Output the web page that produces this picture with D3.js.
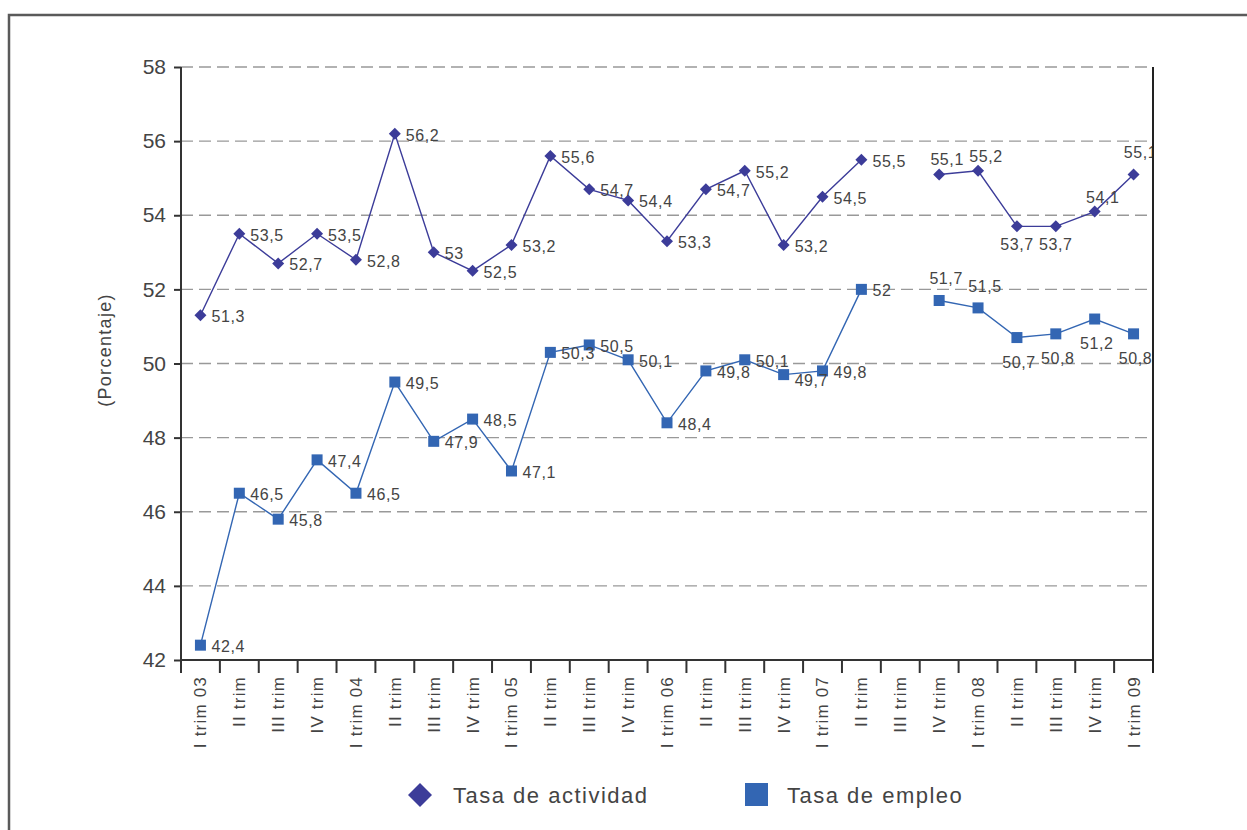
<!DOCTYPE html>
<html>
<head>
<meta charset="utf-8">
<script src="https://cdn.jsdelivr.net/npm/d3@7"></script>
<style>
  body { margin: 0; background: #fff; }
  text { font-family: "Liberation Sans", Arial, sans-serif; fill: #444; }
</style>
</head>
<body>
<script>
// quarters, 2003 - 2009
let quarters = ["I trim 03", "II trim", "III trim", "IV trim",
  "I trim 04", "II trim", "III trim", "IV trim",
  "I trim 05", "II trim", "III trim", "IV trim",
  "I trim 06", "II trim", "III trim", "IV trim",
  "I trim 07", "II trim", "III trim", "IV trim",
  "I trim 08", "II trim", "III trim", "IV trim",
  "I trim 09"];

// III trim 07 has no value in either series
let actividad = [51.3, 53.5, 52.7, 53.5, 52.8, 56.2, 53, 52.5, 53.2, 55.6, 54.7, 54.4,
  53.3, 54.7, 55.2, 53.2, 54.5, 55.5, null, 55.1, 55.2, 53.7, 53.7, 54.1, 55.1];
let empleo = [42.4, 46.5, 45.8, 47.4, 46.5, 49.5, 47.9, 48.5, 47.1, 50.3, 50.5, 50.1,
  48.4, 49.8, 50.1, 49.7, 49.8, 52, null, 51.7, 51.5, 50.7, 50.8, 51.2, 50.8];

let yTicks = [42, 44, 46, 48, 50, 52, 54, 56, 58];

// where each value label sits: r = right, t/T = above, b/B = below
let actLabelPos = ["r","r","r","r","r","r","r","r","r","r","r","r","r","r","r","r","r","r",
  null, "t", "t", "b", "b", "t", "T"];
let empLabelPos = ["r","r","r","r","r","r","r","r","r","r","r","r","r","r","r","R","r","r",
  null, "T", "T", "B", "B", "B", "B"];

let labelOffset = {
  r: {dx: 11, dy: 7, anchor: "start"},
  R: {dx: 11, dy: 11, anchor: "start"},
  t: {dx: 8, dy: -9, anchor: "middle"},
  T: {dx: 7, dy: -16, anchor: "middle"},
  b: {dx: 0, dy: 24, anchor: "middle"},
  B: {dx: 2, dy: 30, anchor: "middle"}
};

var W = 1247, H = 830;
var plotL = 181, plotR = 1153, plotT = 67, plotB = 660;

var svg = d3.select("body").append("svg")
  .attr("width", W)
  .attr("height", H);

// outer frame (only top and left edges show)
svg.append("rect")
  .attr("x", 9).attr("y", 15)
  .attr("width", 1300).attr("height", 900)
  .attr("fill", "none")
  .attr("stroke", "#5a5a5a")
  .attr("stroke-width", 2.5);

var x = d3.scaleBand().domain(d3.range(quarters.length)).range([plotL, plotR]);
var y = d3.scaleLinear().domain([42, 58]).range([plotB, plotT]);
var cx = i => x(i) + x.bandwidth() / 2;

// grid
svg.append("g")
  .selectAll("line")
  .data(yTicks.filter(v => v > 42))
  .join("line")
  .attr("x1", plotL).attr("x2", plotR)
  .attr("y1", d => y(d)).attr("y2", d => y(d))
  .attr("stroke", "#999")
  .attr("stroke-width", 1.3)
  .attr("stroke-dasharray", "12,6");

// y axis
var yAxis = svg.append("g")
  .attr("transform", "translate(" + plotL + ",0)")
  .call(d3.axisLeft(y).tickValues(yTicks).tickSize(7).tickPadding(8).tickFormat(d3.format("d")));
yAxis.select(".domain").remove();
yAxis.selectAll(".tick line").attr("stroke", "#333").attr("stroke-width", 2);
yAxis.selectAll(".tick text").style("font-size", "21px").style("fill", "#444");

// x axis labels
var xAxis = svg.append("g")
  .attr("transform", "translate(0," + plotB + ")")
  .call(d3.axisBottom(x).tickSize(0).tickFormat(i => quarters[i]));
xAxis.select(".domain").remove();
xAxis.selectAll(".tick text")
  .attr("transform", "rotate(-90)")
  .attr("x", -16)
  .attr("y", 0)
  .attr("dy", "0.35em")
  .style("text-anchor", "end")
  .style("font-size", "17px")
  .style("letter-spacing", "1.2px")
  .style("fill", "#444");

// x ticks on the band edges
var edges = d3.range(quarters.length).map(i => x(i)).concat([plotR]);
svg.append("g")
  .selectAll("line")
  .data(edges)
  .join("line")
  .attr("x1", d => d).attr("x2", d => d)
  .attr("y1", plotB).attr("y2", plotB + 13)
  .attr("stroke", "#333")
  .attr("stroke-width", 2);

svg.append("line")
  .attr("x1", plotL).attr("x2", plotL)
  .attr("y1", plotT).attr("y2", plotB + 13)
  .attr("stroke", "#333").attr("stroke-width", 2);
svg.append("line")
  .attr("x1", plotL).attr("x2", plotR)
  .attr("y1", plotB).attr("y2", plotB)
  .attr("stroke", "#333").attr("stroke-width", 2);

svg.append("text")
  .attr("transform", "translate(105,350) rotate(-90)")
  .attr("dy", "0.35em")
  .style("text-anchor", "middle")
  .style("font-size", "18px")
  .style("letter-spacing", "1.3px")
  .text("(Porcentaje)");

var series = [
  {name: "Tasa de actividad", values: actividad, pos: actLabelPos, color: "#3c3c99", shape: "diamond"},
  {name: "Tasa de empleo", values: empleo, pos: empLabelPos, color: "#3366b3", shape: "square"}
];

svg.append("clipPath").attr("id", "plotclip")
  .append("rect").attr("x", 0).attr("y", 0).attr("width", plotR).attr("height", H);

var line = d3.line()
  .defined(d => d[1] != null)
  .x(d => cx(d[0]))
  .y(d => y(d[1]));

series.forEach(s => {
  var pts = s.values.map((v, i) => [i, v]);
  svg.append("path")
    .datum(pts)
    .attr("fill", "none")
    .attr("stroke", s.color)
    .attr("stroke-width", 1.4)
    .attr("d", line);

  var valid = pts.filter(d => d[1] != null);
  if (s.shape == "diamond") {
    svg.append("g").selectAll("path")
      .data(valid)
      .join("path")
      .attr("d", d => {
        var px = cx(d[0]), py = y(d[1]), r = 6;
        return "M" + px + "," + (py - r) + "L" + (px + r) + "," + py + "L" + px + "," + (py + r) + "L" + (px - r) + "," + py + "Z";
      })
      .attr("fill", s.color);
  } else {
    svg.append("g").selectAll("rect")
      .data(valid)
      .join("rect")
      .attr("x", d => cx(d[0]) - 5.5)
      .attr("y", d => y(d[1]) - 5.5)
      .attr("width", 11).attr("height", 11)
      .attr("fill", s.color);
  }

  svg.append("g").attr("clip-path", "url(#plotclip)")
    .selectAll("text")
    .data(valid)
    .join("text")
    .attr("x", d => cx(d[0]) + labelOffset[s.pos[d[0]]].dx)
    .attr("y", d => y(d[1]) + labelOffset[s.pos[d[0]]].dy)
    .style("text-anchor", d => labelOffset[s.pos[d[0]]].anchor)
    .style("font-size", "16px")
    .style("letter-spacing", "0.6px")
    .text(d => String(d[1]).replace(".", ","));
});

// right edge of plot drawn last
svg.append("line")
  .attr("x1", plotR).attr("x2", plotR)
  .attr("y1", plotT).attr("y2", plotB + 13)
  .attr("stroke", "#222").attr("stroke-width", 2);

// legend
svg.append("path")
  .attr("d", "M420,783L432,795L420,807L408,795Z")
  .attr("fill", series[0].color);
svg.append("text")
  .attr("x", 453).attr("y", 803)
  .style("font-size", "22px")
  .style("letter-spacing", "1.5px")
  .text(series[0].name);
svg.append("rect")
  .attr("x", 745).attr("y", 783)
  .attr("width", 23).attr("height", 23)
  .attr("fill", series[1].color);
svg.append("text")
  .attr("x", 787).attr("y", 803)
  .style("font-size", "22px")
  .style("letter-spacing", "1.5px")
  .text(series[1].name);
</script>
</body>
</html>
